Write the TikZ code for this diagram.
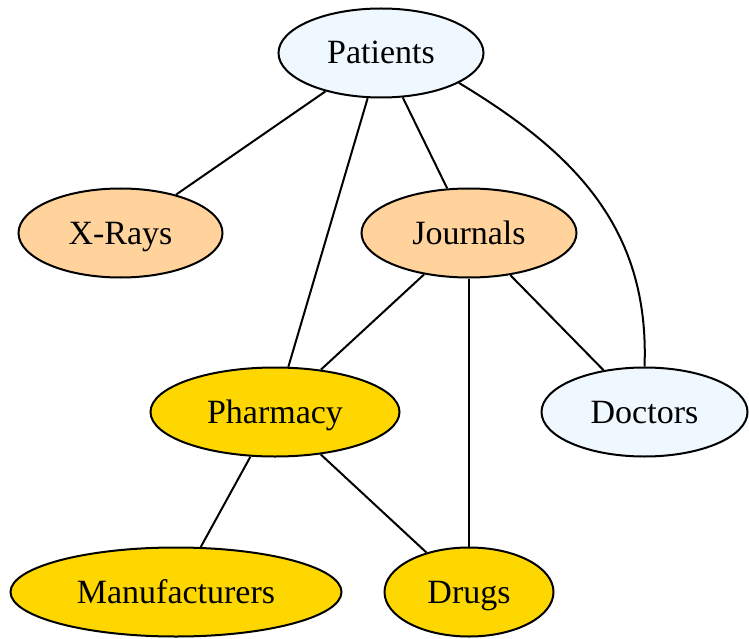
\documentclass[tikz,border=0pt]{standalone}
\usepackage{fontspec}
\setmainfont{Liberation Serif}
\usetikzlibrary{shapes.geometric}
\definecolor{blueish}{HTML}{F0F8FF}
\definecolor{orangish}{HTML}{FFD39B}
\definecolor{goldish}{HTML}{FFD700}
\tikzset{
  nd/.style={ellipse, draw=black, line width=2pt, inner sep=0pt, minimum height=89pt,
    text height=22pt, text depth=0pt, font=\fontsize{34}{38}\selectfont},
  edge/.style={draw=black, line width=2pt}
}
\begin{document}
\begin{tikzpicture}[x=1pt,y=-1pt]
\useasboundingbox (0,0) rectangle (749,639);
\node[nd, fill=blueish, minimum width=205pt] (patients) at (381,53) {Patients};
\node[nd, fill=orangish, minimum width=204pt] (xrays) at (120.5,233) {X-Rays};
\node[nd, fill=orangish, minimum width=215pt] (journals) at (469,233) {Journals};
\node[nd, fill=goldish, minimum width=249pt] (pharmacy) at (275,412) {Pharmacy};
\node[nd, fill=blueish, minimum width=206pt] (doctors) at (644.5,412) {Doctors};
\node[nd, fill=goldish, minimum width=331pt] (manuf) at (176,592) {Manufacturers};
\node[nd, fill=goldish, minimum width=169pt] (drugs) at (469,592) {Drugs};
\draw[edge] (patients) -- (xrays);
\draw[edge] (patients) -- (pharmacy);
\draw[edge] (patients) -- (journals);
\draw[edge] (patients.-21) .. controls (570,150) and (650,225) .. (doctors.north);
\draw[edge] (journals) -- (pharmacy);
\draw[edge] (journals.south) -- (drugs.north);
\draw[edge] (journals) -- (doctors);
\draw[edge] (pharmacy) -- (manuf);
\draw[edge] (pharmacy) -- (drugs);
\end{tikzpicture}
\end{document}
